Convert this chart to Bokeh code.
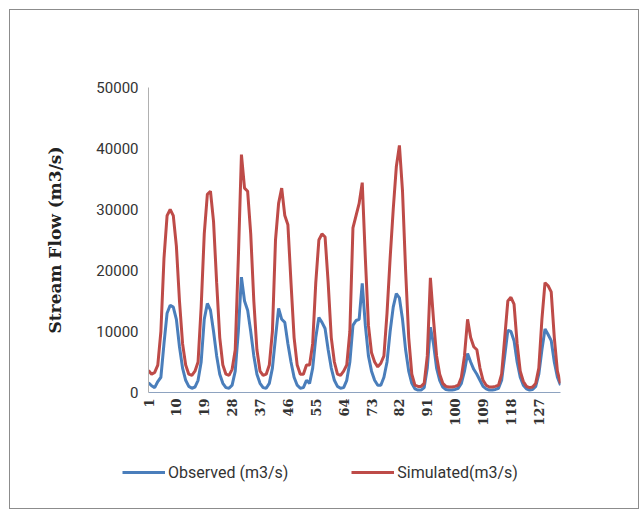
import numpy as np
from bokeh.plotting import figure
from bokeh.models import Range1d, FixedTicker, Legend, LegendItem
from bokeh.embed import file_html
from bokeh.resources import INLINE

months = list(range(1, 135))

observed = [
    1600, 1100, 800, 1800, 2500, 8000, 13000, 14300, 14000, 12000, 7500, 4000,
    2000, 1000, 700, 900, 2000, 5000, 12000, 14600, 13500, 10000, 6000, 3000,
    1500, 800, 700, 1200, 3500, 10000, 18900, 15000, 13500, 10000, 6000, 3000,
    1500, 800, 700, 1500, 4000, 9000, 13800, 12000, 11500, 8000, 5000, 2500,
    1200, 700, 800, 2000, 1500, 4000, 9000, 12300, 11500, 10500, 7000, 4000,
    2000, 1000, 700, 800, 2000, 5000, 11000, 11800, 12000, 17900, 11000, 6000,
    3500, 2000, 1200, 1200, 2500, 5000, 10000, 14000, 16200, 15500, 12000, 7000,
    3500, 1500, 600, 400, 400, 800, 4000, 10700, 8000, 4000, 2000, 900,
    500, 400, 400, 500, 700, 1500, 3500, 6400, 5000, 3800, 3000, 2000,
    1000, 600, 400, 400, 500, 700, 2000, 6000, 10200, 10000, 8500, 5000,
    2500, 1200, 600, 400, 500, 1000, 3000, 7000, 10400, 9500, 8500, 5000,
    2500, 1200,
]

simulated = [
    3600, 3000, 3300, 4500, 10000, 22000, 29000, 30000, 29000, 24000, 15000, 8000,
    4500, 3000, 2800, 3500, 5000, 14000, 26000, 32500, 33000, 28000, 18000, 9000,
    4500, 3000, 2800, 3800, 7000, 22000, 39000, 33500, 33000, 26000, 15000, 7000,
    3500, 2800, 3000, 4500, 10000, 25000, 31000, 33500, 29000, 27500, 18000, 9000,
    4500, 3000, 3000, 4500, 4500, 8000, 18000, 25000, 26000, 25500, 18000, 9000,
    5000, 3000, 2800, 3500, 4500, 10000, 27000, 29000, 31000, 34400, 22000, 11000,
    6500, 5000, 4200, 4800, 6000, 13000, 22000, 30000, 37000, 40500, 33000, 20000,
    9000, 3000, 1200, 1000, 1000, 1500, 6000, 18800, 12000, 6000, 3000, 1500,
    1000, 900, 900, 1000, 1200, 2500, 6000, 12000, 9000, 7500, 7000, 4000,
    2000, 1200, 900, 900, 1000, 1200, 3000, 9000, 15000, 15600, 14500, 8000,
    3500, 1800, 1000, 800, 900, 1500, 4000, 12000, 18000, 17500, 16500, 9000,
    3500, 1500,
]

x_ticks = [1, 10, 19, 28, 37, 46, 55, 64, 73, 82, 91, 100, 109, 118, 127]
y_ticks = [0, 10000, 20000, 30000, 40000, 50000]
series_labels = ["Observed (m3/s)", "Simulated(m3/s)"]

BLUE = "#4a7ebb"
RED = "#be4b48"
BORDER = "1px solid #8c8c8c"

p = figure(width=630, height=445, output_backend="svg", toolbar_location=None,
           x_range=Range1d(1, 134), y_range=Range1d(0, 50000),
           min_border_left=138, min_border_right=80, min_border_top=77,
           min_border_bottom=63)
p.styles = {"border-top": BORDER, "border-left": BORDER, "border-right": BORDER,
            "margin": "9px 0 0 9px"}
p.outline_line_color = None
p.xgrid.visible = False
p.ygrid.visible = False
p.background_fill_color = "white"
p.border_fill_color = "white"

p.line(months, observed, line_color=BLUE, line_width=3)
p.line(months, simulated, line_color=RED, line_width=3)

p.yaxis.ticker = FixedTicker(ticks=y_ticks)
p.yaxis.axis_label = "Stream Flow (m3/s)"
p.yaxis.axis_label_text_font = "DejaVu Serif"
p.yaxis.axis_label_text_font_style = "bold"
p.yaxis.axis_label_text_font_size = "17px"
p.yaxis.axis_label_text_color = "#222222"
p.yaxis.axis_label_standoff = 28
p.yaxis.major_label_text_font = "Roboto"
p.yaxis.major_label_text_font_size = "15px"
p.yaxis.major_label_text_color = "#333333"
p.yaxis.major_label_standoff = 10
p.yaxis.axis_line_color = "#b0b0b0"
p.yaxis.major_tick_out = 0
p.yaxis.major_tick_in = 0
p.yaxis.minor_tick_out = 0
p.yaxis.minor_tick_in = 0

p.xaxis.ticker = FixedTicker(ticks=x_ticks)
p.xaxis.major_label_orientation = np.pi / 2
p.xaxis.major_label_text_font = "DejaVu Serif"
p.xaxis.major_label_text_font_style = "bold"
p.xaxis.major_label_text_font_size = "13px"
p.xaxis.major_label_text_color = "#333333"
p.xaxis.major_label_standoff = 6
p.xaxis.axis_line_color = "#8ea3c0"
p.xaxis.major_tick_out = 0
p.xaxis.major_tick_in = 0
p.xaxis.minor_tick_out = 0
p.xaxis.minor_tick_in = 0

# legend strip below the chart (series drawn out of view, used only as legend proxies)
p2 = figure(width=630, height=55, output_backend="svg", toolbar_location=None,
            x_range=Range1d(-10, -9), y_range=Range1d(0, 1),
            x_axis_location=None, y_axis_location=None, min_border=0)
p2.styles = {"border-bottom": BORDER, "border-left": BORDER, "border-right": BORDER,
             "margin": "0 0 0 9px"}
p2.outline_line_color = None
p2.xgrid.visible = False
p2.ygrid.visible = False
p2.background_fill_color = "white"
p2.border_fill_color = "white"
k_obs = p2.line(months, observed, line_color=BLUE, line_width=3)
k_sim = p2.line(months, simulated, line_color=RED, line_width=3)

legend = Legend(items=[LegendItem(label=series_labels[0], renderers=[k_obs]),
                       LegendItem(label=series_labels[1], renderers=[k_sim])],
                orientation="horizontal", location=(112, 27))
legend.label_text_font = "Roboto"
legend.label_text_font_size = "16px"
legend.label_text_color = "#333333"
legend.glyph_width = 43
legend.label_standoff = 3
legend.spacing = 63
legend.background_fill_alpha = 0
legend.border_line_alpha = 0
legend.padding = 0
legend.margin = 0
p2.add_layout(legend)

open("out.html", "w").write(file_html([p, p2], INLINE))
